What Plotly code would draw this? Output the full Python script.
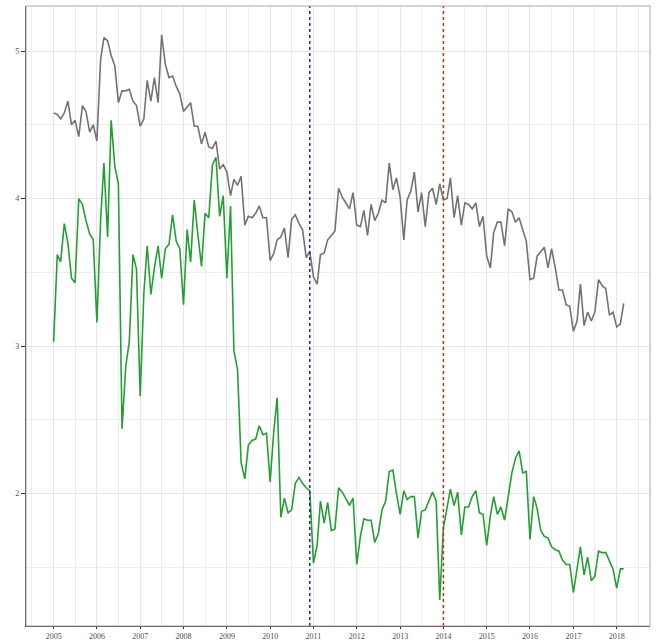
import pandas as pd
import plotly.graph_objects as go

start_month = "2005-01-01"

gray_values = [
    4.58, 4.57, 4.54, 4.58, 4.66, 4.50, 4.53, 4.42, 4.63, 4.59, 4.45, 4.50, 4.39,
    4.94, 5.09, 5.07, 4.97, 4.90, 4.65, 4.73, 4.73, 4.74, 4.66, 4.63, 4.49, 4.54, 4.80,
    4.66, 4.82, 4.65, 5.11, 4.91, 4.82, 4.83, 4.76, 4.71, 4.59, 4.62, 4.65, 4.49, 4.49,
    4.37, 4.45, 4.35, 4.34, 4.39, 4.20, 4.23, 4.18, 4.02, 4.13, 4.09,
    4.15, 3.82, 3.88, 3.87, 3.90, 3.95, 3.87, 3.87, 3.58, 3.63, 3.72, 3.74, 3.80, 3.60,
    3.86, 3.89, 3.83, 3.79, 3.60, 3.64, 3.47, 3.42, 3.62, 3.63, 3.72, 3.75, 3.78, 4.07,
    4.01, 3.97, 3.93, 4.04, 3.82, 3.81, 3.92, 3.75, 3.96, 3.85, 3.90, 3.99, 3.97, 4.24,
    4.06, 4.14, 4.01, 3.72, 3.99, 4.05, 4.18, 3.91, 4.04, 3.81, 4.04, 4.07, 3.96, 4.10,
    3.99, 4.00, 4.14,
    3.87, 4.02, 3.82, 3.97, 3.96, 3.93, 3.97, 3.81, 3.88, 3.61, 3.53, 3.77, 3.84, 3.84,
    3.68, 3.93, 3.91, 3.84, 3.87, 3.78, 3.71, 3.45, 3.46, 3.61, 3.64, 3.67, 3.53, 3.66,
    3.53, 3.38, 3.38, 3.28, 3.27, 3.10, 3.17, 3.42, 3.14, 3.23, 3.17, 3.23, 3.45, 3.41,
    3.39, 3.21, 3.23, 3.13, 3.15, 3.29,
]

green_values = [
    3.03, 3.62, 3.57, 3.83, 3.70, 3.46, 3.43, 4.00, 3.96, 3.85, 3.76, 3.72, 3.16, 3.85,
    4.24, 3.74, 4.53, 4.22, 4.10, 2.44, 2.86, 3.03, 3.62, 3.52, 2.66, 3.36, 3.68,
    3.35, 3.53, 3.68, 3.46, 3.66, 3.69, 3.89, 3.71, 3.66, 3.28, 3.79, 3.57, 3.99, 3.76,
    3.54, 3.90, 3.87, 4.23, 4.28, 3.88, 4.02, 3.46, 3.95, 2.97, 2.84,
    2.21, 2.10, 2.33, 2.36, 2.37, 2.46, 2.40, 2.41, 2.08, 2.43, 2.65, 1.84, 1.97, 1.87,
    1.89, 2.07, 2.11, 2.07, 2.04, 2.02, 1.53, 1.65, 1.95, 1.80, 1.94, 1.75, 1.76, 2.04,
    2.01, 1.96, 1.92, 1.97, 1.52, 1.71, 1.83, 1.82, 1.82, 1.67, 1.73, 1.89, 1.95, 2.15,
    2.16, 2.00, 1.86, 2.02, 1.96, 1.98, 1.98, 1.70, 1.88, 1.89, 1.95, 2.01, 1.95, 1.28,
    1.77, 1.90, 2.03,
    1.92, 2.01, 1.72, 1.91, 1.91, 1.98, 2.02, 1.87, 1.86, 1.65, 1.85, 1.98, 1.86, 1.91,
    1.82, 1.99, 2.14, 2.24, 2.29, 2.14, 2.15, 1.69, 1.98, 1.90, 1.75, 1.71, 1.70, 1.64,
    1.62, 1.61, 1.55, 1.52, 1.52, 1.33, 1.48, 1.64, 1.45, 1.57, 1.41, 1.44, 1.61, 1.60,
    1.60, 1.54, 1.49, 1.36, 1.49, 1.49,
]

event_dates = ["2010-12-01", "2014-01-01"]
event_colors = ["#1a1aff", "#ff1a1a"]

y_tick_values = [2, 3, 4, 5]
y_tick_labels = ["2", "3", "4", "5"]

gray_dates = pd.date_range(start_month, periods=len(gray_values), freq="MS")
green_dates = pd.date_range(start_month, periods=len(green_values), freq="MS")

fig = go.Figure()
fig.add_trace(go.Scatter(x=gray_dates, y=gray_values, mode="lines",
                         line=dict(color="#737373", width=1.6), showlegend=False))
fig.add_trace(go.Scatter(x=green_dates, y=green_values, mode="lines",
                         line=dict(color="#23a032", width=1.6), showlegend=False))

for d, c in zip(event_dates, event_colors):
    fig.add_shape(type="line", x0=d, x1=d, xref="x", y0=0, y1=1, yref="paper",
                  line=dict(color=c, width=1.5, dash="dot"))

# panel border
fig.add_shape(type="rect", xref="paper", yref="paper", x0=0, x1=1, y0=0, y1=1,
              line=dict(color="#a8a8a8", width=1), layer="above")

tick_font = dict(family="Liberation Serif, Times New Roman, serif", size=8, color="#4d4d4d")

fig.update_layout(
    width=659, height=641,
    margin=dict(l=26, r=9, t=6, b=15, autoexpand=False),
    plot_bgcolor="white", paper_bgcolor="white",
    xaxis=dict(
        type="date", automargin=False,
        range=["2004-05-13", "2018-10-09"],
        tick0="2005-01-01", dtick="M12", tickformat="%Y",
        showgrid=True, gridcolor="#e6e6e6", gridwidth=1,
        minor=dict(dtick="M6", showgrid=True, gridcolor="#ededed", gridwidth=1),
        showline=True, linecolor="#333333", linewidth=1.2,
        ticks="outside", ticklen=2, tickcolor="#333333", tickwidth=1,
        tickfont=tick_font, zeroline=False,
    ),
    yaxis=dict(
        automargin=False,
        range=[1.103, 5.305],
        tickmode="array", tickvals=y_tick_values, ticktext=y_tick_labels,
        showgrid=True, gridcolor="#e6e6e6", gridwidth=1,
        minor=dict(tickvals=[1.5, 2.5, 3.5, 4.5], showgrid=True, gridcolor="#ededed", gridwidth=1),
        showline=True, linecolor="#333333", linewidth=1.2,
        ticks="outside", ticklen=4, tickcolor="#333333", tickwidth=1,
        tickfont=tick_font, zeroline=False,
    ),
)

fig.write_html("out.html", config={"displayModeBar": False},
               post_script="document.body.style.margin='0';document.body.style.overflow='hidden';")
